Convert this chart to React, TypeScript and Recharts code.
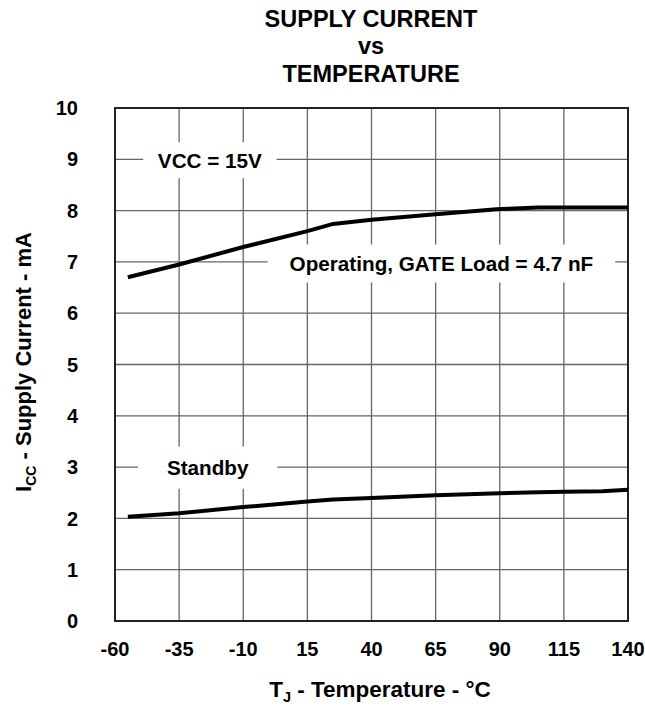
import { LineChart, Line, XAxis, YAxis, CartesianGrid, ReferenceArea } from "recharts";

// junction temperature (°C)
const temps = [-55, -35, -10, 15, 25, 40, 65, 90, 105, 115, 130, 140];
// supply current (mA)
const operating = [6.7, 6.95, 7.29, 7.6, 7.74, 7.82, 7.93, 8.03, 8.06, 8.06, 8.06, 8.06];
const standby = [2.03, 2.1, 2.22, 2.33, 2.37, 2.4, 2.45, 2.49, 2.51, 2.52, 2.53, 2.56];

const xTicks = [-60, -35, -10, 15, 40, 65, 90, 115, 140];
const yTicks = [0, 1, 2, 3, 4, 5, 6, 7, 8, 9, 10];

const font = "'Liberation Sans', Arial, sans-serif";

const data = temps.map((t, i) => ({ t, operating: operating[i], standby: standby[i] }));

const tickStyle = { fill: "#000", fontSize: 20, fontWeight: "bold", fontFamily: font };
const noteLabel = (value: string) => ({
  value,
  position: "center" as const,
  fill: "#000",
  fontSize: 20.7,
  fontWeight: "bold",
  fontFamily: font,
});

export default function App() {
  return (
    <div style={{ position: "absolute", left: 0, top: 0, width: 645, height: 706, background: "#fff" }}>
      <LineChart width={645} height={706} data={data} margin={{ top: 108, right: 17, left: 0, bottom: 0 }}>
        <CartesianGrid stroke="#666" strokeWidth={1.3} horizontalValues={yTicks} verticalValues={xTicks} />
        <XAxis
          dataKey="t"
          type="number"
          domain={[-60, 140]}
          ticks={xTicks}
          interval={0}
          height={85}
          tickSize={0}
          tickMargin={21}
          axisLine={false}
          tickLine={false}
          tick={tickStyle}
        />
        <YAxis
          type="number"
          domain={[0, 10]}
          ticks={yTicks}
          interval={0}
          width={115}
          tickSize={0}
          tickMargin={37}
          axisLine={false}
          tickLine={false}
          tick={tickStyle}
        />
        <ReferenceArea x1={-49} x2={3} y1={8.63} y2={9.33} fill="#fff" fillOpacity={1} stroke="none" label={noteLabel("VCC = 15V")} />
        <ReferenceArea x1={-0.5} x2={135} y1={6.6} y2={7.34} fill="#fff" fillOpacity={1} stroke="none" label={noteLabel("Operating, GATE Load = 4.7 nF")} />
        <ReferenceArea x1={-51} x2={3.3} y1={2.58} y2={3.4} fill="#fff" fillOpacity={1} stroke="none" label={noteLabel("Standby")} />
        <Line type="linear" dataKey="operating" stroke="#000" strokeWidth={4} dot={false} isAnimationActive={false} />
        <Line type="linear" dataKey="standby" stroke="#000" strokeWidth={4} dot={false} isAnimationActive={false} />
        <ReferenceArea x1={-60} x2={140} y1={0} y2={10} fill="none" stroke="#222" strokeWidth={2} />
      </LineChart>
      <svg width={645} height={706} style={{ position: "absolute", left: 0, top: 0, pointerEvents: "none" }}>
        <g fontFamily={font} fontWeight="bold" fill="#000" textAnchor="middle">
          <text x={371} y={26.5} fontSize={23.5}>SUPPLY CURRENT</text>
          <text x={371} y={54} fontSize={23.5}>vs</text>
          <text x={371} y={81.5} fontSize={23.5}>TEMPERATURE</text>
          <text x={380} y={696.5} fontSize={22.5}>
            <tspan>T</tspan>
            <tspan dy={5} fontSize={14.5}>J</tspan>
            <tspan dy={-5}> - Temperature - °C</tspan>
          </text>
          <text x={31} y={362} fontSize={22}>
          </text>
          <text x={31} y={362} fontSize={22} transform="rotate(-90 31 362)">
            <tspan>I</tspan>
            <tspan dy={5} fontSize={14}>CC</tspan>
            <tspan dy={-5}> - Supply Current - mA</tspan>
          </text>
        </g>
      </svg>
    </div>
  );
}
